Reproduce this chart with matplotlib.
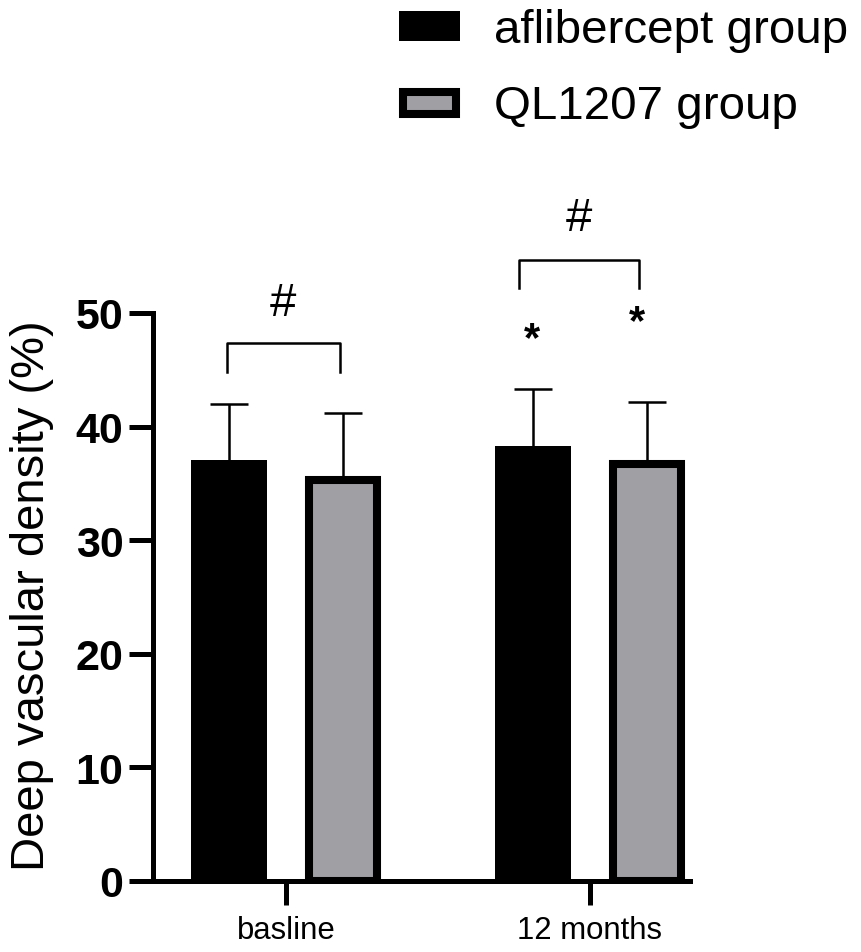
import matplotlib
matplotlib.use("Agg")
from matplotlib import pyplot as plt
from matplotlib.patches import Rectangle

groups = ["basline", "12 months"]
series_names = ["aflibercept group", "QL1207 group"]
aflibercept = [37.1, 38.3]
ql1207 = [35.3, 36.7]
aflibercept_err = [4.9, 5.0]
ql1207_err = [5.9, 5.5]
ticks = [0, 10, 20, 30, 40, 50]

W, H = 862, 953
plt.rcParams["font.family"] = ["Liberation Sans", "DejaVu Sans"]

fig = plt.figure(figsize=(W / 100, H / 100), dpi=100)
# y=0 at pixel 882, y=50 at pixel 314; x limits in pixels
left, right, top, bottom = 153.5, 690, 314, 882
ax = fig.add_axes([left / W, 1 - bottom / H, (right - left) / W, (bottom - top) / H])
ax.set_xlim(left, right)
ax.set_ylim(0, 50)
ax.patch.set_alpha(0)

black = "#000000"
grey = "#a0a0a4"
lw = 5.8
axis_lw = 3.6
thin = 1.8

xa = [229, 533]
xb = [343, 647]

ax.bar(xa, aflibercept, 76, color=black, linewidth=0)
ax.bar(xb, ql1207, 68, color=grey, edgecolor=black, linewidth=lw)
for xs, vals, errs in ((xa, aflibercept, aflibercept_err), (xb, ql1207, ql1207_err)):
    cont = ax.errorbar(xs, vals, yerr=[[0, 0], errs], fmt="none", ecolor=black,
                       elinewidth=thin, capsize=13.7, capthick=thin)
    # only the upper cap shows in the original
    cont[1][0].set_visible(False)

for s in ("top", "right"):
    ax.spines[s].set_visible(False)
ax.spines["left"].set_linewidth(axis_lw)
ax.spines["bottom"].set_linewidth(axis_lw)

ax.set_yticks(ticks)
ax.set_yticklabels(ticks, fontsize=31, fontweight="bold")
ax.tick_params(axis="y", length=17.6, width=axis_lw, pad=4)
ax.set_xticks([286, 590])
ax.set_xticklabels(groups, fontsize=22.4)
ax.tick_params(axis="x", length=17.3, width=axis_lw, pad=7)
fig.text(32.5 / W, 1 - 596 / H, "Deep vascular density (%)", rotation=90, fontsize=34,
         ha="center", va="center")


def px(x, y):
    return x / W, 1 - y / H


def bracket(x0, x1, ytop, ybot):
    fig.add_artist(plt.Line2D([x0 / W, x0 / W, x1 / W, x1 / W],
                              [1 - ybot / H, 1 - ytop / H, 1 - ytop / H, 1 - ybot / H],
                              color=black, lw=thin))


bracket(227, 340, 344, 373)
bracket(519, 639, 261, 289)
fig.text(*px(283, 304), "#", fontsize=34, ha="center", va="center")
fig.text(*px(579, 219), "#", fontsize=34, ha="center", va="center")
fig.text(*px(532, 340), "*", fontsize=30, fontweight="bold", ha="center", va="center")
fig.text(*px(637, 323), "*", fontsize=30, fontweight="bold", ha="center", va="center")

# legend drawn by hand to hit the positions of the original
fig.add_artist(Rectangle(px(399, 42), 61 / W, 30 / H, transform=fig.transFigure,
                         facecolor=black, linewidth=0))
fig.add_artist(Rectangle(px(403, 115), 53 / W, 22 / H, transform=fig.transFigure,
                         facecolor=grey, edgecolor=black, linewidth=lw))
fig.text(*px(494, 43), series_names[0], fontsize=34.2, ha="left", va="baseline")
fig.text(*px(494, 119), series_names[1], fontsize=34.2, ha="left", va="baseline")

fig.savefig("out.png", dpi=100)
